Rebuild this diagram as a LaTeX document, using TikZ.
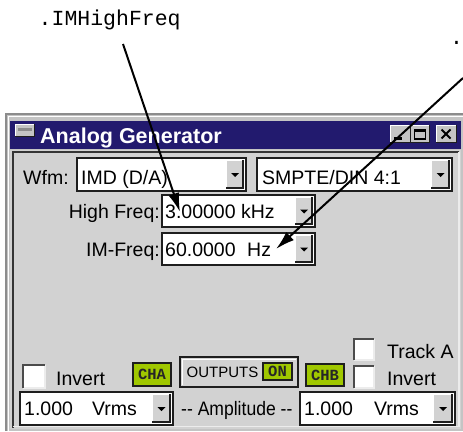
\documentclass[tikz,border=0pt]{standalone}
\usepackage{fontspec}
\setmainfont{Liberation Sans}
\setmonofont{Liberation Mono}
\newfontfamily\uifont{Liberation Sans}
\usetikzlibrary{arrows.meta,calc}
\definecolor{navy}{RGB}{34,26,110}
\definecolor{panel}{RGB}{210,210,210}
\definecolor{framegray}{RGB}{196,196,196}
\definecolor{ledgreen}{RGB}{160,200,0}
\definecolor{darkedge}{RGB}{30,30,30}
\definecolor{midedge}{RGB}{140,140,140}
\definecolor{lightedge}{RGB}{236,236,236}

\tikzset{
  ui/.style={font=\uifont\fontsize{19.5}{23}\selectfont, inner sep=0pt, anchor=base west, text=black},
  uie/.style={ui, anchor=base east},
  code/.style={font=\ttfamily\fontsize{21.5}{25}\selectfont, inner sep=0pt, anchor=base west},
  pointer/.style={line width=2pt, -{Latex[length=19pt,width=11pt]}},
  badge/.style={font=\ttfamily\bfseries\fontsize{15.5}{16}\selectfont, text=black!85, inner sep=0pt},
  titletext/.style={font=\bfseries\fontsize{21.5}{25}\selectfont, text=white, inner sep=0pt, anchor=base west},
}

% sunken white field: x1 y1 x2 y2
\newcommand\fieldbox[4]{%
  \fill[white] (#1,#2) rectangle (#3,#4);
  \draw[darkedge, line width=1.8pt] (#1,#2) rectangle (#3,#4);
}
% drop-down button: x1 y1 x2 y2
\newcommand\ddbtn[4]{%
  \fill[panel] (#1,#2) rectangle (#3,#4);
  \draw[white, line width=1.2pt] (#1+0.6,#4) -- (#1+0.6,#2+0.6) -- (#3,#2+0.6);
  \draw[darkedge, line width=1.6pt] (#1,#4-0.8) -- (#3-0.8,#4-0.8) -- (#3-0.8,#2);
  \fill[black] ($(#1,#2)!0.5!(#3,#4)+(-4,-1.5)$) -- ++(8,0) -- ++(-4,4) -- cycle;
}
% check box: x1 y1 x2 y2
\newcommand\chkbox[4]{%
  \fill[white] (#1,#2) rectangle (#3,#4);
  \draw[lightedge, line width=1.5pt] (#3,#2) -- (#3,#4) -- (#1,#4);
  \draw[darkedge!80, line width=1.8pt] (#1,#4) -- (#1,#2) -- (#3,#2);
}
% led badge: name x1 y1 x2 y2 text
\newcommand\ledbadge[6]{%
  \draw[darkedge, line width=2.4pt, fill=ledgreen] (#2+1.2,#3+1.2) rectangle (#4-1.2,#5-1.2);
  \node[badge] (#1) at ($(#2,#3)!0.5!(#4,#5)$) {#6};
}

\begin{document}
\begin{tikzpicture}[x=1pt,y=-1pt]
\useasboundingbox (0,0) rectangle (463,431);
\fill[white] (0,0) rectangle (463,431);

% ---------- window frame ----------
\fill[framegray] (5,113) rectangle (463,431);
\draw[midedge, line width=2pt] (6,431) -- (6,114) -- (463,114);
\draw[white, line width=1pt] (8,431) -- (8,116.5) -- (463,116.5);
\fill[navy] (10,121) rectangle (461,149);
\fill[panel] (10,150) rectangle (461,429);
\draw[darkedge!90, line width=2pt] (13,428) -- (13,151.5) -- (459,151.5);
\draw[lightedge, line width=1.5pt] (459,151.5) -- (459,426.5) -- (13,426.5);

% title bar icon
\fill[framegray] (15,124) rectangle (35,137);
\draw[white, line width=1pt] (15.5,137) -- (15.5,124.5) -- (35,124.5);
\draw[darkedge, line width=1.2pt] (15,136.4) -- (34.4,136.4) -- (34.4,124);
\fill[midedge] (18,128) rectangle (32,131);
\node[titletext] (title) at (40,143) {Analog Generator};

% title bar buttons
\fill[framegray] (390,125) rectangle (430,143);
\draw[white, line width=1pt] (390.5,143) -- (390.5,125.5) -- (430,125.5);
\draw[darkedge, line width=1.4pt] (390,142.3) -- (429.3,142.3) -- (429.3,125);
\draw[darkedge, line width=1pt] (410,125) -- (410,142);
\fill[black] (394,137) rectangle (402,139.5);
\draw[black, line width=1.2pt] (414.5,129.5) rectangle (425.5,139);
\draw[black, line width=2.2pt] (414.5,130.5) -- (425.5,130.5);
\fill[framegray] (436,125) rectangle (457,143);
\draw[white, line width=1pt] (436.5,143) -- (436.5,125.5) -- (457,125.5);
\draw[darkedge, line width=1.4pt] (436,142.3) -- (456.3,142.3) -- (456.3,125);
\draw[black, line width=2pt] (441.5,129.5) -- (450.5,138.5) (450.5,129.5) -- (441.5,138.5);

% ---------- waveform row ----------
\node[ui] (wfm) at (23,184) {Wfm:};
\fieldbox{77}{158}{246}{191}
\node[ui] (wfmval) at (81,184) {IMD (D/A)};
\ddbtn{226}{160}{244}{189}
\fieldbox{257}{158}{452}{191}
\node[ui] (smpte) at (262,184) {SMPTE/DIN 4:1};
\ddbtn{431}{160}{450}{189}

% ---------- frequency rows ----------
\node[uie] (hflabel) at (160,218) {High Freq:};
\fieldbox{162}{195}{315}{227}
\node[ui] (hfval) at (165,218) {3.00000 kHz};
\ddbtn{295}{197}{313}{225}
\node[uie] (imlabel) at (160,256) {IM-Freq:};
\fieldbox{162}{233}{315}{265}
\node[ui] (imval) at (165,256) {60.0000};
\node[ui] (imunit) at (247,256) {Hz};
\ddbtn{295}{235}{313}{263}

% ---------- output controls ----------
\chkbox{23}{365}{45}{388}
\node[ui] (invA) at (56,385) {Invert};
\ledbadge{cha}{132}{362}{172}{387}{CHA}
\fill[panel] (180,357) rectangle (298,387);
\draw[darkedge, line width=1.8pt] (180,357) rectangle (298,387);
\draw[white, line width=1pt] (182.5,385) -- (182.5,359.5) -- (296,359.5);
\node[font=\uifont\fontsize{15}{16}\selectfont, inner sep=0pt, anchor=base west] (outputs) at (186.5,377.5) {OUTPUTS};
\ledbadge{on}{262}{362}{293}{381}{ON}
\ledbadge{chb}{305}{363}{345}{387}{CHB}
\chkbox{354}{339}{374}{360}
\node[ui] (track) at (387,358) {Track A};
\chkbox{354}{366}{374}{388}
\node[ui] (invB) at (387,385) {Invert};

% ---------- amplitude row ----------
\fieldbox{20}{392}{173}{425}
\node[ui] (ampA) at (24,415) {1.000};
\node[ui] (ampAu) at (92,415) {Vrms};
\ddbtn{152}{394}{171}{423}
\node[ui] (amplabel) at (181,415) {\scalebox{0.9}[1]{-{}- Amplitude -{}-}};
\fieldbox{300}{392}{455}{425}
\node[ui] (ampB) at (304,415) {1.000};
\node[ui] (ampBu) at (374,415) {Vrms};
\ddbtn{433}{394}{453}{423}

% ---------- callouts ----------
\node[code] (lblhigh) at (38.5,25) {.IMHighFreq};
\node[code] (lblim) at (450,44.5) {.};
\coordinate (s1) at (123,44);
\coordinate (t1) at (180,212);
\coordinate (s2) at (463,78);
\coordinate (t2) at (276,249);
\draw[pointer] (s1) -- (t1);
\draw[pointer] (s2) -- (t2);
\end{tikzpicture}
\end{document}
